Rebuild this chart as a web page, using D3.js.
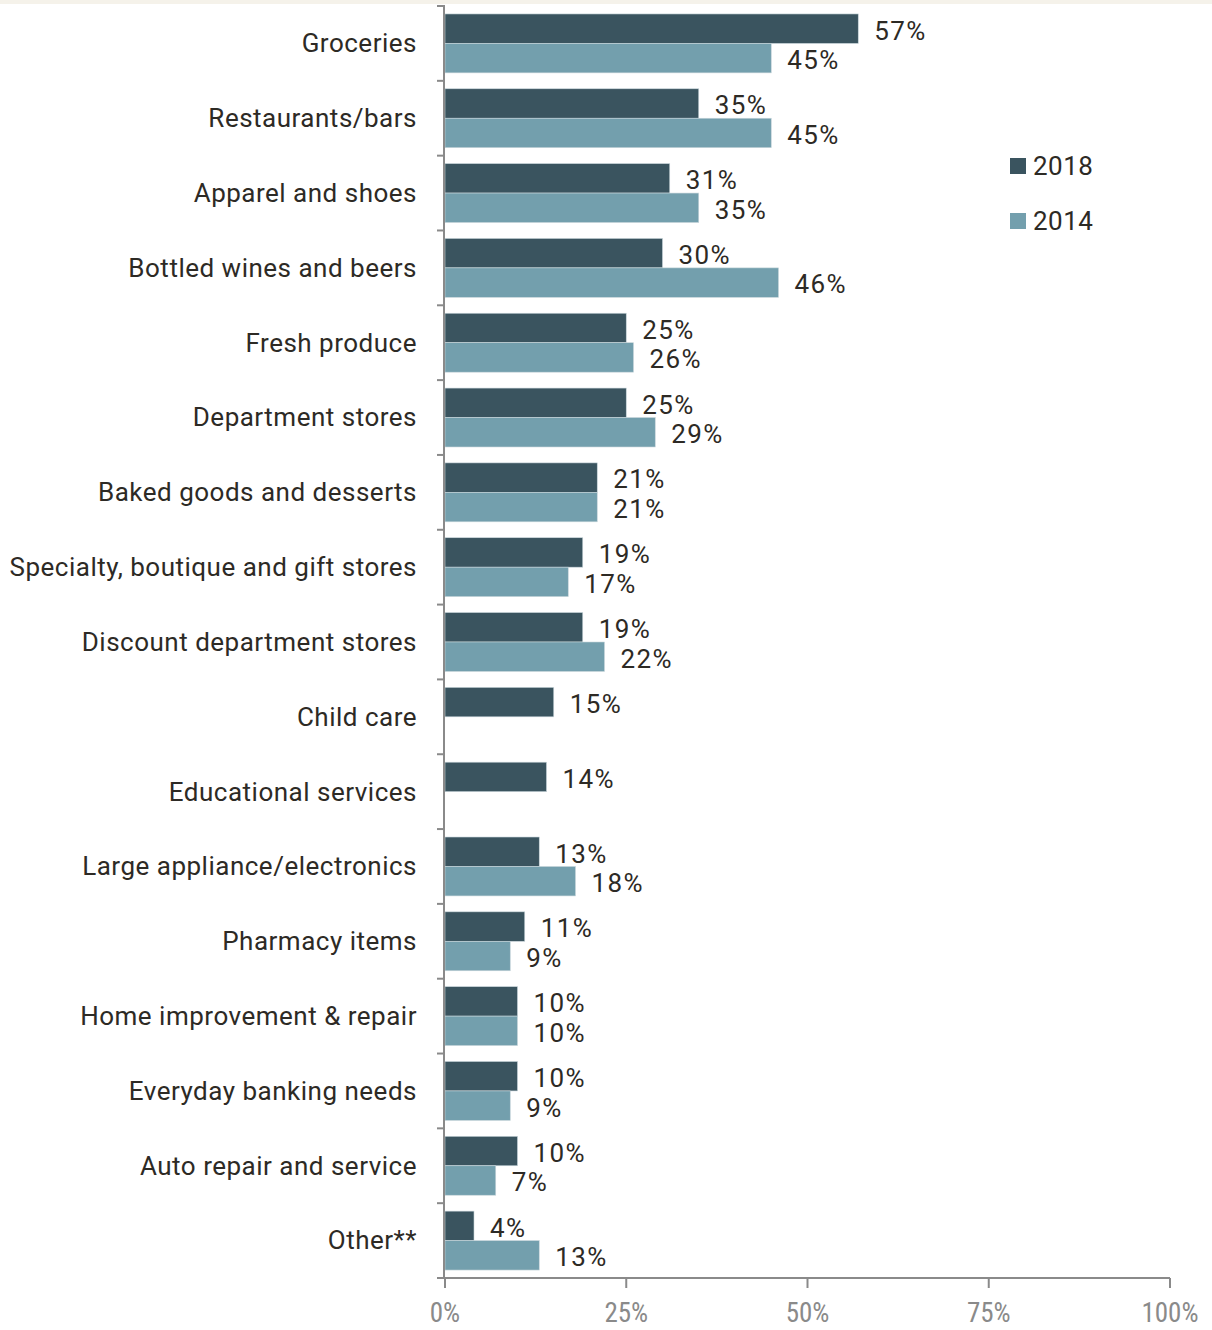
<!DOCTYPE html>
<html><head><meta charset="utf-8">
<script src="https://cdn.jsdelivr.net/npm/d3@7"></script>
<style>body{margin:0;background:#fff}svg{display:block}</style>
</head><body>
<script>
const categories = ["Groceries","Restaurants/bars","Apparel and shoes","Bottled wines and beers","Fresh produce","Department stores","Baked goods and desserts","Specialty, boutique and gift stores","Discount department stores","Child care","Educational services","Large appliance/electronics","Pharmacy items","Home improvement & repair","Everyday banking needs","Auto repair and service","Other**"];
const values2018 = [57,35,31,30,25,25,21,19,19,15,14,13,11,10,10,10,4];
const values2014 = [45,45,35,46,26,29,21,17,22,null,null,18,9,10,9,7,13];
const seriesNames = ["2018","2014"];
const xTicks = [0,25,50,75,100];

const W=1212,H=1330;
const colors={"2018":"#3a545f","2014":"#739fad"};
const svg=d3.select("body").append("svg").attr("width",W).attr("height",H);
svg.append("rect").attr("x",0).attr("y",0).attr("width",W).attr("height",4).attr("fill","#f5f2ea");

const x=d3.scaleLinear().domain([0,100]).range([445,1170]);
const y=d3.scaleBand().domain(categories).range([6,1278]).padding(0);
const y1=d3.scaleBand().domain(seriesNames).range([0,y.bandwidth()]).paddingInner(0).paddingOuter(0.27);

const data=categories.map((c,i)=>({cat:c,vals:[{s:"2018",v:values2018[i]},{s:"2014",v:values2014[i]}]}));

const g=svg.selectAll("g.cat").data(data).join("g").attr("class","cat")
  .attr("transform",d=>`translate(0,${y(d.cat)})`);
const bars=g.selectAll("g.b").data(d=>d.vals.filter(v=>v.v!=null)).join("g").attr("class","b");
bars.append("rect").attr("x",x(0)).attr("y",d=>y1(d.s)).attr("width",d=>x(d.v)-x(0))
  .attr("height",y1.bandwidth()).attr("fill",d=>colors[d.s]).attr("stroke","#c9d6db").attr("stroke-width",0.6);
bars.append("text").attr("x",d=>x(d.v)+16).attr("y",d=>y1(d.s)+y1.bandwidth()/2+4)
  .attr("dominant-baseline","middle").attr("font-family","Roboto").attr("font-size",26)
  .attr("letter-spacing",1.4).attr("fill","#2d2a25").text(d=>d.v+"%");

// category labels
g.append("text").attr("x",417).attr("y",y.bandwidth()/2+2).attr("text-anchor","end")
  .attr("dominant-baseline","middle").attr("font-family","Roboto").attr("font-size",26)
  .attr("letter-spacing",0.5).attr("fill","#2d2a25").text(d=>d.cat);

// y axis
const axisColor="#8a8a8a";
svg.append("line").attr("x1",x(0)-1).attr("x2",x(0)-1).attr("y1",y.range()[0]).attr("y2",1278).attr("stroke",axisColor).attr("stroke-width",2);
const bounds=categories.map(c=>y(c));
svg.selectAll("line.yt").data(bounds).join("line").attr("class","yt")
  .attr("x1",437).attr("x2",x(0)).attr("y1",d=>d).attr("y2",d=>d).attr("stroke",axisColor).attr("stroke-width",2);

// x axis
const xa=svg.append("g").attr("transform","translate(0,1278)");
xa.append("line").attr("x1",437).attr("x2",x(100)).attr("stroke",axisColor).attr("stroke-width",2);
xa.selectAll("line.xt").data(xTicks).join("line").attr("class","xt").attr("x1",d=>x(d)).attr("x2",d=>x(d))
  .attr("y1",0).attr("y2",10).attr("stroke",axisColor).attr("stroke-width",2);
xa.selectAll("text").data(xTicks).join("text").attr("x",d=>x(d)).attr("y",44).attr("text-anchor","middle")
  .attr("font-family","'Roboto Condensed','Liberation Sans Narrow',Roboto").attr("font-stretch","condensed")
  .attr("font-size",27).attr("fill","#8a8a8a").text(d=>d+"%");

// legend
const lg=svg.selectAll("g.lg").data(seriesNames).join("g").attr("class","lg")
  .attr("transform",(d,i)=>`translate(1010,${158+i*55})`);
lg.append("rect").attr("width",16).attr("height",16).attr("fill",d=>colors[d]);
lg.append("text").attr("x",23).attr("y",10).attr("dominant-baseline","middle").attr("font-family","Roboto")
  .attr("font-size",26).attr("letter-spacing",0.5).attr("fill","#2d2a25").text(d=>d);
</script>
</body></html>
